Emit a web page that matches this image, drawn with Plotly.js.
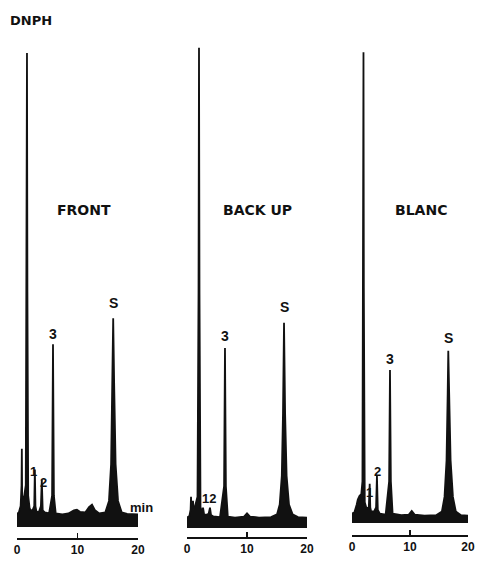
<!DOCTYPE html>
<html>
<head>
<meta charset="utf-8">
<script src="https://cdn.plot.ly/plotly-3.0.1.min.js"></script>
<style>html,body{margin:0;padding:0;background:#fff;}#chart{width:478px;height:562px;}</style>
</head>
<body>
<div id="chart"></div>
<script>
// Retention time (min) and detector response (arbitrary units)
const frontTime = [0, 0.3, 0.6, 0.75, 0.8, 0.85, 1.0, 1.2, 1.45, 1.58, 1.65, 1.72, 1.85, 2.1, 2.5, 2.85, 2.95, 3.05, 3.2, 3.6, 3.95, 4.1, 4.25, 4.6, 5.3, 5.8, 5.95, 6.1, 6.4, 7.5, 8.5, 9.4, 9.9, 10.4, 11.3, 11.9, 12.4, 12.9, 13.6, 14.6, 15.2, 15.55, 15.75, 15.9, 16.05, 16.3, 16.7, 17.3, 18.2, 19.2, 20];
const frontSignal = [2.5, 2.8, 4, 8, 15, 6, 5.5, 6, 8, 45, 90.8, 45, 6, 3.5, 3, 4, 11, 4, 3, 2.8, 4, 9, 3.2, 2.8, 2.6, 6, 35, 6, 2.6, 2.4, 2.6, 3.2, 3.3, 2.9, 2.8, 3.8, 4.3, 3.2, 2.6, 2.8, 5, 12, 28, 40, 28, 12, 5, 2.8, 2.5, 2.4, 2.4];

const backupTime = [0, 0.4, 0.6, 0.67, 0.75, 0.88, 1.0, 1.1, 1.3, 1.75, 1.92, 2.0, 2.08, 2.25, 2.5, 2.67, 2.85, 3.2, 3.6, 3.83, 4.0, 4.4, 5.5, 6.18, 6.33, 6.48, 6.8, 8.0, 9.5, 10.0, 10.5, 12.0, 14.0, 15.0, 15.45, 15.8, 16.0, 16.17, 16.35, 16.6, 17.0, 17.6, 18.5, 20];
const backupSignal = [2.0, 2.3, 3.5, 6, 3.5, 4, 5.2, 3.5, 4, 6, 45, 92, 45, 4, 3, 3.9, 2.6, 2.5, 2.7, 3.9, 2.5, 2.2, 2.1, 8, 34.5, 8, 2.2, 2.0, 2.2, 2.8, 2.2, 2.0, 2.1, 2.6, 4.5, 10, 22, 39.3, 22, 10, 4.5, 2.6, 2.1, 2.0];

const blancTime = [0, 0.4, 0.8, 1.0, 1.3, 1.6, 1.8, 1.92, 1.98, 2.04, 2.2, 2.5, 2.9, 3.05, 3.15, 3.3, 3.8, 4.15, 4.3, 4.45, 4.8, 5.8, 6.4, 6.55, 6.7, 7.0, 8.5, 9.8, 10.3, 10.8, 12.5, 14.5, 15.5, 15.95, 16.3, 16.5, 16.6, 16.75, 17.0, 17.4, 17.9, 18.8, 20];
const blancSignal = [1.8, 2.0, 3.5, 4.5, 5.2, 5.5, 8, 45, 90.2, 45, 4, 2.8, 3, 7.5, 3, 2.2, 2.2, 3, 9, 2.5, 1.8, 1.6, 8, 29.3, 8, 1.8, 1.5, 1.6, 2.3, 1.6, 1.4, 1.5, 2.2, 5, 12, 25, 33, 25, 12, 5, 2.2, 1.5, 1.4];

const panelNames = ["FRONT", "BACK UP", "BLANC"];
const tickValues = [0, 10, 20];
const tickLabels = ["0", "10", "20"];
const peakLabelsFront = ["1", "2", "3", "S"];
const peakLabelsBackup = ["12", "3", "S"];
const peakLabelsBlanc = ["1", "2", "3", "S"];

const W = 478, H = 562, MB = 24;
const PH = H - MB; // plot area height in px
const pxPerUnit = 5.22;
const px = v => v / W;
const py = v => (PH - v) / PH;

function trace(x, y, xa, ya) {
  return {x: x, y: y, xaxis: xa, yaxis: ya, type: 'scatter', mode: 'lines',
    line: {color: '#111', width: 1.8, shape: 'linear'}, fill: 'tozeroy', fillcolor: '#111',
    hoverinfo: 'skip', showlegend: false};
}

const data = [
  trace(frontTime, frontSignal, 'x', 'y'),
  trace(backupTime, backupSignal, 'x2', 'y2'),
  trace(blancTime, blancSignal, 'x3', 'y3')
];

function xax(d0, d1, anchor) {
  return {domain: [px(d0), px(d1)], anchor: anchor, range: [0, 20], tickvals: tickValues, ticktext: tickLabels,
    showline: true, linecolor: '#111', linewidth: 2, ticks: 'inside', ticklen: 5, tickwidth: 1.5, tickcolor: '#111',
    showgrid: false, zeroline: false, fixedrange: true,
    tickfont: {family: 'Liberation Sans, Arial, sans-serif', size: 12, color: '#111', weight: 'bold'}};
}
function yax(bottomPx, zeroOffsetPx) {
  const lo = -zeroOffsetPx / pxPerUnit;
  const hgt = bottomPx;
  return {domain: [(PH - bottomPx) / PH, 1], range: [lo, lo + hgt / pxPerUnit], visible: false, fixedrange: true};
}

const tf = (s) => ({family: 'DejaVu Sans, sans-serif', size: s, color: '#111', weight: 'bold'});
const af = (s) => ({family: 'Liberation Sans, Arial, sans-serif', size: s, color: '#111', weight: 'bold'});
function ann(text, x, y, font, xanchor) {
  return {text: text, xref: 'paper', yref: 'paper', x: px(x), y: py(y), showarrow: false,
    xanchor: xanchor || 'center', yanchor: 'middle', font: font};
}

const annotations = [
  ann('DNPH', 8, 21, tf(13), 'left'),
  ann(panelNames[0], 84, 210, tf(14)),
  ann(panelNames[1], 257, 210, tf(14)),
  ann(panelNames[2], 421, 210, tf(14)),
  ann(peakLabelsFront[0], 33, 472, af(13)),
  ann(peakLabelsFront[1], 43, 482, af(13)),
  ann(peakLabelsFront[2], 53, 334, af(14)),
  ann(peakLabelsFront[3], 113, 303, af(14)),
  ann('min', 128, 507, af(13), 'left'),
  ann(peakLabelsBackup[0], 209, 498, af(13)),
  ann(peakLabelsBackup[1], 225, 336, af(14)),
  ann(peakLabelsBackup[2], 284, 307, af(14)),
  ann(peakLabelsBlanc[0], 369, 492, af(13)),
  ann(peakLabelsBlanc[1], 377, 471, af(13)),
  ann(peakLabelsBlanc[2], 390, 359, af(14)),
  ann(peakLabelsBlanc[3], 448, 338, af(14))
];

const layout = {
  width: W, height: H,
  margin: {l: 0, r: 0, t: 0, b: MB, pad: 0},
  paper_bgcolor: '#fff', plot_bgcolor: '#fff',
  showlegend: false,
  xaxis: xax(17, 138, 'y'),
  xaxis2: xax(187, 307, 'y2'),
  xaxis3: xax(352, 468, 'y3'),
  yaxis: yax(538, 11),
  yaxis2: yax(537, 9),
  yaxis3: yax(535, 12),
  annotations: annotations
};

Plotly.newPlot('chart', data, layout, {displayModeBar: false, staticPlot: true});
</script>
</body>
</html>
